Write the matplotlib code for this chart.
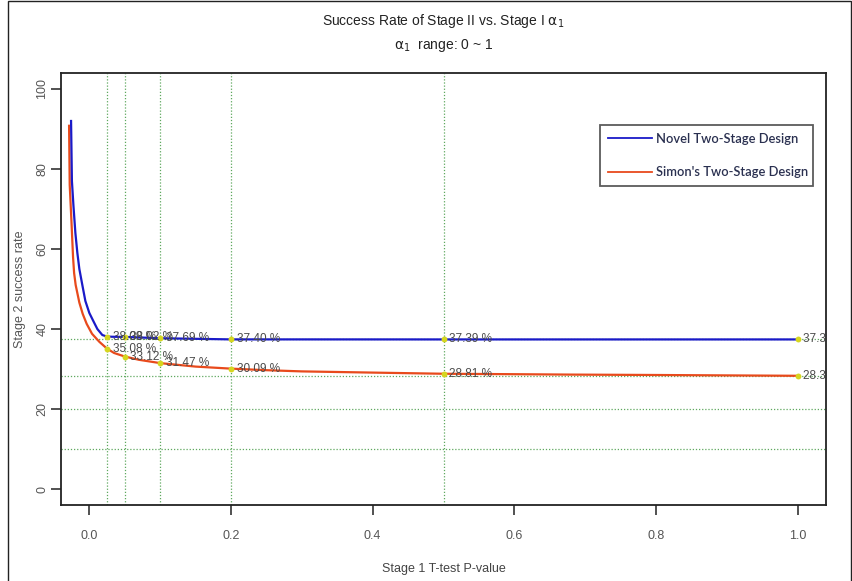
import matplotlib.pyplot as plt
from matplotlib.patches import Rectangle

# stage 1 p-value (x) and stage 2 success rate (%)
novel_x = [-0.0258, -0.0246, -0.0225, -0.0197, -0.0169, -0.0141, -0.0099,
           -0.0056, 0.0, 0.0056, 0.0113, 0.0183, 0.025, 0.035, 0.05, 0.1,
           0.2, 0.3, 0.5, 0.7, 1.0]
novel_y = [92.0, 77.0, 71.0, 64.0, 59.0, 55.0, 51.0, 47.0, 44.0, 42.0, 40.0,
           38.5, 38.09, 38.05, 38.02, 37.69, 37.40, 37.40, 37.39, 37.39, 37.39]

simon_x = [-0.0286, -0.0277, -0.0254, -0.0230, -0.0215, -0.0193, -0.0141,
           -0.0094, -0.0038, 0.0038, 0.0141, 0.025, 0.035, 0.05, 0.07, 0.1,
           0.15, 0.2, 0.25, 0.3, 0.4, 0.5, 0.6, 0.68, 0.8, 0.9, 1.0]
simon_y = [90.8, 76.0, 67.5, 58.0, 54.0, 51.0, 46.6, 43.8, 41.3, 38.8, 36.8,
           35.08, 34.0, 33.12, 32.3, 31.47, 30.6, 30.09, 29.7, 29.4, 29.1,
           28.81, 28.7, 28.6, 28.5, 28.4, 28.3]

# highlighted alpha_1 values and labels
mark_x = [0.025, 0.05, 0.1, 0.2, 0.5, 1.0]
novel_mark = [38.09, 38.02, 37.69, 37.40, 37.39, 37.39]
simon_mark = [35.08, 33.12, 31.47, 30.09, 28.81, 28.3]

vline_x = [0.025, 0.05, 0.1, 0.2, 0.5]
hline_y = [37.39, 28.3, 20, 10]

blue = '#1a1ac8'
red = '#e84a1c'
grid_green = '#5fa85f'
txt_gray = '#555555'

plt.rcParams['font.family'] = ['Liberation Sans', 'DejaVu Sans']

fig = plt.figure(figsize=(8.52, 5.81), dpi=100)
ax = fig.add_axes([0.0716, 0.1308, 0.8979, 0.7436])

for v in vline_x:
    ax.axvline(v, color=grid_green, lw=0.9, ls=(0, (1, 1.5)), zorder=1)
for h in hline_y:
    ax.axhline(h, color=grid_green, lw=0.9, ls=(0, (1, 1.5)), zorder=1)

ax.plot(novel_x, novel_y, color=blue, lw=1.6, zorder=3,
        label='Novel Two-Stage Design')
ax.plot(simon_x, simon_y, color=red, lw=1.6, zorder=2,
        label="Simon's Two-Stage Design")

ax.scatter(mark_x, novel_mark, s=18, color='#d6d620', zorder=4, lw=0)
ax.scatter(mark_x, simon_mark, s=18, color='#d6d620', zorder=4, lw=0)
for x, y in zip(mark_x, novel_mark):
    ax.text(x + 0.008, y, '%.2f %%' % y, fontsize=8.5, color='#4a4a4a',
            va='center', ha='left', zorder=5, clip_on=True)
for x, y in zip(mark_x, simon_mark):
    ax.text(x + 0.008, y, '%.2f %%' % y, fontsize=8.5, color='#4a4a4a',
            va='center', ha='left', zorder=5, clip_on=True)

ax.set_xlim(-0.04, 1.04)
ax.set_ylim(-4, 104)
ax.set_xticks([0.0, 0.2, 0.4, 0.6, 0.8, 1.0])
ax.set_xticklabels(['0.0', '0.2', '0.4', '0.6', '0.8', '1.0'])
ax.set_yticks([0, 20, 40, 60, 80, 100])
ax.set_yticklabels(['0', '20', '40', '60', '80', '100'], rotation=90,
                   va='center')
ax.tick_params(axis='both', direction='out', length=7, width=1.1,
               colors='#222222', labelcolor=txt_gray, labelsize=9)
ax.tick_params(axis='x', pad=11)
ax.tick_params(axis='y', pad=2)
for s in ax.spines.values():
    s.set_linewidth(1.3)
    s.set_color('#222222')

ax.set_xlabel('Stage 1 T-test P-value', fontsize=9, color='#444444')
ax.xaxis.set_label_coords(0.5, -0.135)
ax.set_ylabel('Stage 2 success rate', fontsize=9, color=txt_gray)
ax.yaxis.set_label_coords(-0.046, 0.5)

fig.text(0.5205, 0.963, r'Success Rate of Stage II vs. Stage I $\mathrm{\alpha}_1$',
         ha='center', va='center', fontsize=10, color='#222222')
fig.text(0.5205, 0.922, r'$\mathrm{\alpha}_1$  range: 0 ~ 1',
         ha='center', va='center', fontsize=10, color='#222222')

leg = ax.legend(loc='center', bbox_to_anchor=(0.7046, 0.713, 0.278, 0.192),
                mode='expand', frameon=True, fancybox=False,
                handlelength=3.4, handletextpad=0.3, labelspacing=1.7,
                borderaxespad=0, borderpad=0.6,
                prop={'family': 'Lato', 'weight': 'semibold', 'size': 9.3})
leg.get_frame().set_edgecolor('#333333')
leg.get_frame().set_linewidth(1.3)
for t in leg.get_texts():
    t.set_color('#2a3050')
for l in leg.get_lines():
    l.set_linewidth(1.3)

# outer border of the exported picture
fig.patches.append(Rectangle((0.0094, -0.01), 0.99, 1.008, transform=fig.transFigure,
                             fill=False, edgecolor='#222222', lw=1.0))

fig.savefig('out.png', dpi=100)
